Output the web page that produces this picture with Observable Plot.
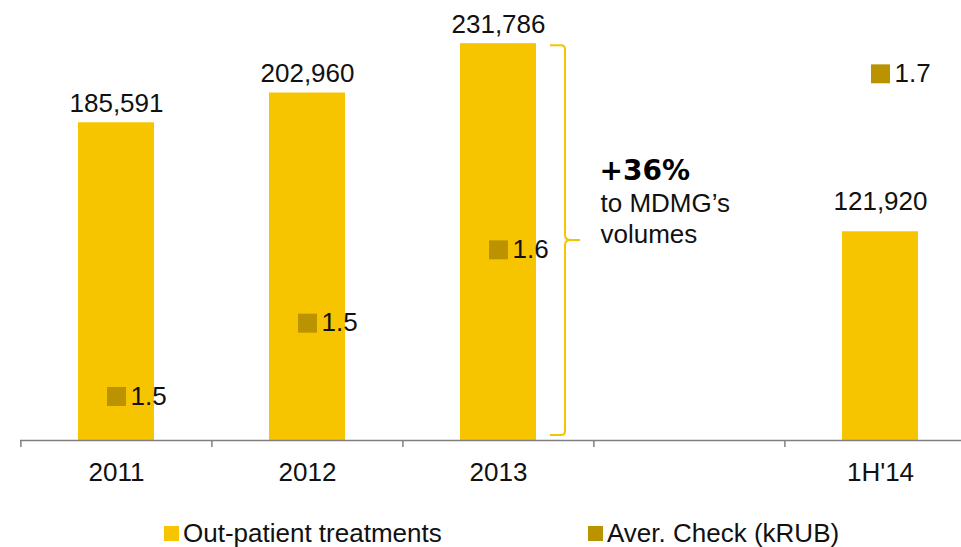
<!DOCTYPE html>
<html><head><meta charset="utf-8">
<script src="https://cdn.jsdelivr.net/npm/d3@7"></script>
<script src="https://cdn.jsdelivr.net/npm/@observablehq/plot@0.6"></script>
<style>
body{margin:0;background:#fff;font-family:"Liberation Sans",Arial,sans-serif;}
#legend{position:relative;height:42px;width:961px;font-size:26px;color:#111;}
#legend .sw{position:absolute;top:21px;width:15px;height:15px;}
#legend .lb{position:absolute;top:15px;line-height:26px;white-space:nowrap;}
</style></head><body>
<div id="chart"></div>
<div id="legend"></div>
<script>
const categories = ["2011", "2012", "2013", " ", "1H'14"];
const treatments = [185591, 202960, 231786, null, 121920];
const avgCheck = [1.48, 1.53, 1.58, null, 1.70];
const avgCheckLabels = ["1.5", "1.5", "1.6", null, "1.7"];
const seriesNames = ["Out-patient treatments", "Aver. Check (kRUB)"];
const seriesColors = ["#F7C400", "#BB9300"];
const growthLabel = "+36%";
const growthNote = "to MDMG\u2019s\nvolumes";
const bracketCategory = "2013";

const W = 961, H = 505, baseY = 440;
const yMax = 257000;
const checkDomain = [1.45, 1.75];
const checkToY = d3.scaleLinear(checkDomain, [0, yMax]);

const rows = categories.map((c, i) => ({cat: c, v: treatments[i], chk: avgCheck[i], chkLabel: avgCheckLabels[i]}))
  .filter(d => d.v != null);
const xRange = [20, 976];
const step = (xRange[1] - xRange[0]) / categories.length;
const font = "Liberation Sans, Arial, sans-serif";
const ink = "#111";
const fs = 26;

function bracket(index, scales) {
  const {x, y} = scales;
  const bi = categories.indexOf(bracketCategory);
  const x0 = x(bracketCategory) + x.bandwidth() + 14;
  const xv = x0 + 15, xt = x0 + 30;
  const top = y(treatments[bi]) + 2, bot = y(0) - 5, mid = (top + bot) / 2;
  const r = 4;
  const d = `M${x0},${top}H${xv - r}Q${xv},${top} ${xv},${top + r}V${mid - 5}Q${xv},${mid} ${xv + 6},${mid}H${xt}`
    + `M${xv + 6},${mid}Q${xv},${mid} ${xv},${mid + 5}V${bot - r}Q${xv},${bot} ${xv - r},${bot}H${x0}`;
  return d3.create("svg:path").attr("d", d).attr("fill", "none")
    .attr("stroke", seriesColors[0]).attr("stroke-width", 2).node();
}

const midY = () => treatments[categories.indexOf(bracketCategory)] / 2;

const chart = Plot.plot({
  width: W, height: H,
  marginTop: 0, marginBottom: H - baseY, marginLeft: 20, marginRight: 0,
  style: {fontFamily: font, fontSize: fs + "px", color: ink, background: "#fff"},
  x: {domain: categories, range: xRange, paddingInner: 0.6, paddingOuter: 0.3},
  y: {domain: [0, yMax], axis: null},
  marks: [
    Plot.barY(rows, {x: "cat", y: "v", fill: seriesColors[0]}),
    Plot.ruleY([0], {stroke: "#808080", strokeWidth: 1.5}),
    Plot.ruleX(categories, {x: d => d, dx: -step / 2, insetTop: baseY, insetBottom: -7, stroke: "#808080", strokeWidth: 1.5}),
    Plot.axisX({tickSize: 0, tickPadding: 22.5, label: null, fontSize: fs, fill: ink}),
    Plot.text(rows.filter(d => d.cat !== "1H'14"), {x: "cat", y: "v", text: d => d3.format(",")(d.v), dy: -11, lineAnchor: "bottom", fontSize: fs, fill: ink}),
    Plot.text(rows.filter(d => d.cat === "1H'14"), {x: "cat", y: "v", text: d => d3.format(",")(d.v), dy: -22, lineAnchor: "bottom", fontSize: fs, fill: ink}),
    Plot.dot(rows, {x: "cat", y: d => checkToY(d.chk), symbol: "square", r: 10.7, fill: seriesColors[1], stroke: null}),
    Plot.text(rows, {x: "cat", y: d => checkToY(d.chk), text: "chkLabel", dx: 14, textAnchor: "start", lineAnchor: "middle", fontSize: fs, fill: ink}),
    bracket,
    Plot.text([growthLabel], {x: () => bracketCategory, y: midY, text: d => d, dx: 101, dy: -62, textAnchor: "start", lineAnchor: "bottom", fontSize: 28, fontWeight: "bold", fontFamily: "DejaVu Sans, sans-serif", fill: "#000"}),
    Plot.text([growthNote], {x: () => bracketCategory, y: midY, text: d => d, dx: 102, dy: 1, textAnchor: "start", lineAnchor: "bottom", lineHeight: 1.2, fontSize: fs, fill: ink})
  ]
});
document.getElementById("chart").appendChild(chart);

const legend = d3.select("#legend");
const legendLeft = [164, 588];
seriesNames.forEach((name, i) => {
  legend.append("div").attr("class", "sw").style("left", legendLeft[i] + "px").style("background", seriesColors[i]);
  legend.append("div").attr("class", "lb").style("left", (legendLeft[i] + 19) + "px").text(name);
});
</script>
</body></html>
